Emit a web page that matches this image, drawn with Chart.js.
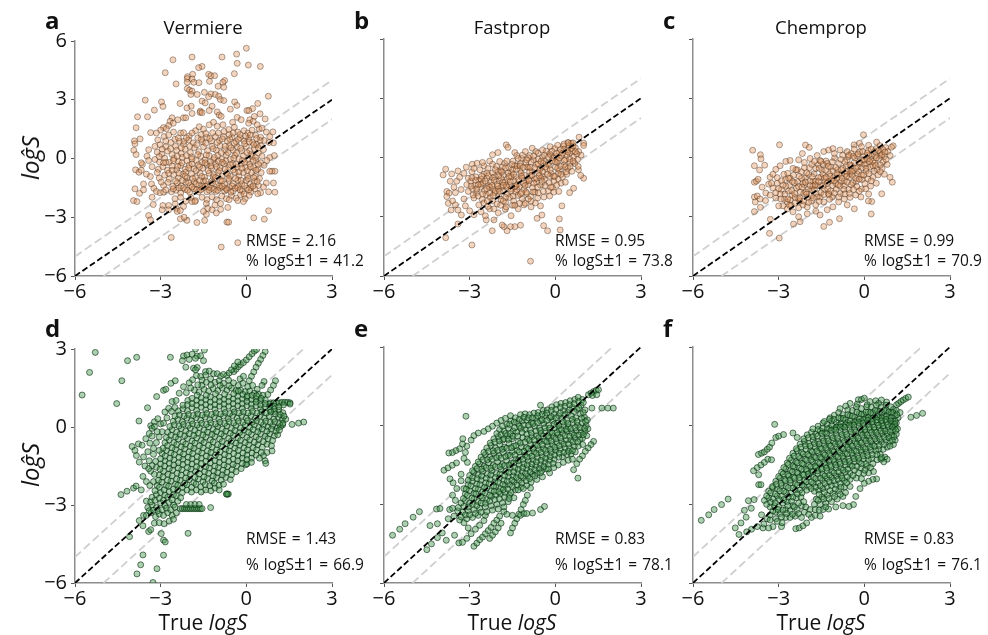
<!DOCTYPE html>
<html>
<head>
<meta charset="utf-8">
<script src="https://cdn.jsdelivr.net/npm/chart.js@4"></script>
<style>
  html, body { margin: 0; padding: 0; background: #fff; }
  #page { position: relative; width: 988px; height: 635px; overflow: hidden; font-family: "Open Sans", "Noto Sans", sans-serif; color: #111; }
  canvas { position: absolute; }
  .txt { position: absolute; white-space: nowrap; line-height: 1; }
  .letter { font-weight: 700; font-size: 24px; }
  .title { font-size: 18.5px; transform: translateX(-50%); }
  .note { font-size: 15.5px; word-spacing: 1px; }
  .note span { font-size: 20px; line-height: 0; }
  .xname { font-size: 21px; transform: translateX(-50%); }
  .yname { font-size: 24px; font-style: italic; transform: translate(-50%, -50%) rotate(-90deg); }
</style>
</head>
<body>
<div id="page"></div>
<script>
const panelLetters = ['a', 'b', 'c', 'd', 'e', 'f'];
const panelTitles = ['Vermiere', 'Fastprop', 'Chemprop'];
const rmseLabels = ['RMSE = 2.16', 'RMSE = 0.95', 'RMSE = 0.99', 'RMSE = 1.43', 'RMSE = 0.83', 'RMSE = 0.83'];
const pctLabels = ['% logS<span>±</span>1 = 41.2', '% logS<span>±</span>1 = 73.8', '% logS<span>±</span>1 = 70.9', '% logS<span>±</span>1 = 66.9', '% logS<span>±</span>1 = 78.1', '% logS<span>±</span>1 = 76.1'];
const xTicks = [-6, -3, 0, 3];
const yTicksTop = [-6, -3, 0, 3, 6];
const yTicksBottom = [-6, -3, 0, 3];

// reference lines y = x, y = x + 1, y = x - 1
const parityX = [-6, 3];
const parityY = [-6, 3];
const upperX = [-6, 3];
const upperY = [-5, 4];
const lowerX = [-5, 3];
const lowerY = [-6, 2];

// Vermiere, small set
const pointsA = [[0,5.63],[-.34,5.33],[-.85,5.18],[-1.9,5.18],[-2.57,5.04],[-.32,4.86],[.07,4.77],[.49,4.7],[-1.55,4.7],[-1.67,4.64],[-2.84,4.38],[-.42,4.33],[-1.32,4.3],[-1.24,4.23],[-1.11,4.23],[-1.88,4.3],[-2.06,4.18],[-2.07,4.08],[-1.9,4.06],[-1.29,3.94],[-.76,3.98],[-.82,3.89],[-2.07,3.89],[-1.84,3.89],[-1.66,3.87],[-2.46,3.81],[-.99,3.69],[-.79,3.64],[-2.07,3.57],[-1.99,3.49],[-1.9,3.44],[-1.94,3.27],[-1.72,3.27],[-1.47,3.38],[-1.24,3.3],[-1.09,3.27],[-1.32,3.15],[-.97,3.18],[-.91,3.01],[-.79,2.96],[.77,3.18],[-3.54,2.98],[-2.97,2.89],[-2.92,2.66],[-3.22,2.47],[-2.32,2.81],[-1.55,2.93],[-1.44,2.84],[-1.2,2.67],[-.41,2.89],[-.33,2.71],[.4,2.81],[.22,2.55],[.02,2.45],[.09,2.45],[-.56,2.52],[-1.93,2.67],[-2.08,2.58],[-1.61,2.42],[-3.81,2.13],[-3.46,2.13],[-3.86,1.57],[-1.62,2.35],[-1.55,2.34],[-1.3,2.45],[-1.02,2.38],[-.95,2.22],[-.88,2.15],[-1.9,2.3],[-2.2,2.08],[-2.12,2.08],[-2.6,2.08],[-2.4,1.98],[-2.67,1.9],[-2.56,1.8],[-2.72,1.68],[-2.9,1.58],[-3,1.45],[-3.15,1.3],[-3.35,1.32],[-2.8,1.52],[-.32,2.1],[-.18,1.98],[-.48,1.85],[.28,2.15],[.48,2.28],[.12,1.98],[.24,1.9],[.08,1.8],[.38,1.72],[.66,2.02],[.45,1.5],[.55,1.55],[.7,1.35],[.93,1.36],[.82,1.12],[.95,.8],[.8,.82],[.98,.15],[.82,.05],[.72,-.1],[1,-.65],[.9,-.65],[.82,-.65],[.95,-1.25],[.7,-1.25],[1,-1.72],[.78,-1.7],[.5,-1.75],[.4,-1.8],[.6,-1.45],[-3.92,.9],[-3.72,1],[-3.9,.75],[-3.94,.42],[-3.86,.2],[-3.42,.45],[-3.48,.12],[-3.88,-.58],[-3.76,-.7],[-3.68,-.6],[-3.64,-.3],[-3.68,-.22],[-3.42,-.1],[-3.3,-.42],[-3.5,-.8],[-3.36,-.92],[-3.6,-1.3],[-3.9,-1.55],[-3.74,-1.78],[-3.6,-1.6],[-3.32,-1.3],[-3.24,-1.52],[-3.15,-1.68],[-3.02,-1.75],[-2.9,-1.72],[-3.3,-1.98],[-3.26,-2.35],[-2.72,-2.4],
[-3.1,.95],[-2.88,1.12],[-2.72,1.2],[-2.55,1.35],[-2.3,1.3],[-2.2,1.32],[-2,1.15],[-1.78,1.42],[-1.65,1.62],[-1.5,1.5],[-1.3,1.72],[-1.15,1.85],[-1.02,1.65],[-.82,1.72],[-.62,1.48],[-.42,1.6],[-.3,1.35],[-.08,1.42],[.05,1.3],[.2,1.45],[.32,1.2],[.5,1.08],[.62,.92],
[-3.2,.62],[-3.02,.7],[-2.82,.6],[-2.64,.82],[-2.48,.62],[-2.34,.88],[-2.2,.72],[-2.02,.95],[-1.86,.8],[-1.7,1.05],[-1.54,.85],[-1.38,1.08],[-1.22,.9],[-1.08,1.12],[-.94,.92],[-.8,1.12],[-.66,.88],[-.5,1.1],[-.36,.86],[-.22,1.06],[-.08,.9],[.08,1.02],[.22,.82],[.36,.72],[.5,.66],[.6,.45],
[-3.12,.32],[-2.96,.22],[-2.76,.38],[-2.6,.2],[-2.44,.42],[-2.28,.25],[-2.14,.48],[-1.96,.3],[-1.82,.55],[-1.66,.35],[-1.5,.6],[-1.36,.4],[-1.2,.62],[-1.05,.42],[-.92,.65],[-.76,.45],[-.6,.66],[-.46,.42],[-.32,.6],[-.16,.4],[0,.62],[.12,.4],[.28,.5],[.42,.28],[.55,.12],
[-3.2,-.05],[-3.04,-.18],[-2.86,.02],[-2.7,-.2],[-2.54,0],[-2.38,-.16],[-2.24,.06],[-2.08,-.12],[-1.92,.08],[-1.76,-.1],[-1.6,.12],[-1.45,-.08],[-1.3,.14],[-1.14,-.06],[-1,.16],[-.86,-.04],[-.7,.18],[-.56,-.05],[-.4,.16],[-.26,-.02],[-.1,.14],[.05,-.06],[.2,.1],[.34,-.1],[.5,-.22],[.62,-.35],
[-3.08,-.55],[-2.92,-.42],[-2.76,-.6],[-2.6,-.38],[-2.44,-.58],[-2.3,-.36],[-2.14,-.55],[-2,-.34],[-1.84,-.52],[-1.68,-.32],[-1.52,-.5],[-1.38,-.3],[-1.22,-.5],[-1.08,-.28],[-.92,-.48],[-.78,-.26],[-.62,-.46],[-.48,-.26],[-.32,-.46],[-.18,-.28],[-.02,-.45],[.12,-.28],[.26,-.46],[.4,-.55],[.52,-.72],
[-3.05,-1],[-2.86,-.85],[-2.7,-1.05],[-2.54,-.82],[-2.38,-1],[-2.22,-.8],[-2.08,-1],[-1.92,-.78],[-1.78,-.98],[-1.62,-.75],[-1.46,-.96],[-1.3,-.75],[-1.16,-.94],[-1,-.72],[-.86,-.92],[-.7,-.72],[-.56,-.9],[-.4,-.7],[-.26,-.9],[-.1,-.72],[.04,-.9],[.18,-.72],[.32,-.92],[.46,-1.02],
[-2.9,-1.38],[-2.74,-1.22],[-2.58,-1.42],[-2.42,-1.24],[-2.28,-1.4],[-2.12,-1.2],[-1.96,-1.38],[-1.82,-1.18],[-1.66,-1.36],[-1.5,-1.16],[-1.36,-1.34],[-1.2,-1.14],[-1.06,-1.32],[-.9,-1.12],[-.76,-1.3],[-.6,-1.12],[-.46,-1.28],[-.3,-1.1],[-.16,-1.3],[0,-1.12],[.14,-1.3],[.28,-1.18],[.42,-1.38],
[-2.62,-1.7],[-2.46,-1.62],[-2.3,-1.76],[-2.14,-1.58],[-1.98,-1.72],[-1.84,-1.55],[-1.68,-1.7],[-1.52,-1.52],[-1.38,-1.7],[-1.22,-1.52],[-1.06,-1.68],[-.92,-1.5],[-.76,-1.66],[-.6,-1.48],[-.46,-1.66],[-.3,-1.5],[-.14,-1.68],[.02,-1.52],[.16,-1.7],[.3,-1.55],
[-2.5,-2.05],[-2.3,-1.98],[-2.12,-2.18],[-1.94,-2],[-1.78,-2.15],[-1.55,-1.98],[-1.38,-2.1],[-1.2,-1.95],[-1.04,-2.1],[-.86,-1.92],[-.7,-2.05],[-.52,-1.9],[-.36,-2.02],[-.2,-1.85],[-.04,-2.05],[.1,-1.88],[-1.9,-2.2],[-1.8,-2.2],[-1.4,-2.3],[-1.1,-2.38],[-.9,-2.3],[-.6,-2.1],[-.3,-2.15],[-.1,-2.2],[-1.35,-2.55],[-1.2,-2.62],[-1.05,-2.78],[-1.4,-2.85],[-.9,-2.6],[-.65,-2.5],[-2.2,-2.45],[-2.45,-2.55],[-2.42,-2.7],[-1.5,-2.7],
[-3.95,-2.15],[-3.83,-2.2],[-3.42,-2.91],[-3.36,-3.13],[-2.63,-4.03],[-.88,-4.52],[-.3,-4.3],[-.68,-3.25],[-.62,-3.25],[.26,-3.03],[.63,-3.1],[.78,-2.67],[-1.73,-3.27],[-1.46,-3.16],[-2.31,-3.08],[-2.08,-3.16],[-2.18,-3],[-2.92,-2.4],[-2.95,-2.62],[-2.72,-2.62],[-2.49,-2.32],[-2.31,-2.66],
// denser core
[-2.5,.98],[-2.28,.55],[-2.42,.12],[-2.18,.88],[-2.1,.15],[-1.98,.62],[-1.9,-.02],[-1.74,.7],[-1.7,.2],[-1.58,.98],[-1.55,-.2],[-1.42,.78],[-1.4,.18],[-1.28,1.02],[-1.26,-.18],[-1.16,.5],[-1.12,.05],[-1.02,.82],[-.98,-.14],[-.88,.3],[-.84,1],[-.74,.62],[-.72,-.12],[-.64,.3],[-.58,1],[-.54,.55],[-.44,.02],[-.42,.78],[-.34,.28],[-.28,.98],[-.2,.52],[-.14,-.1],[-.06,.75],[.02,.3],[.1,.85],[.16,.2],[.26,.7],[.32,.05],[.42,.55],[.48,.92],[-2.65,.5],[-2.55,-.1],[-2.4,-.4],[-2.25,-.22],[-2.12,-.7],[-2.02,-.48],[-1.9,-.28],[-1.76,-.62],[-1.64,-.42],[-1.56,-.92],[-1.44,-.22],[-1.34,-.62],[-1.24,-.38],[-1.14,-.82],[-1.04,-.42],[-.94,-.62],[-.84,-.2],[-.74,-.55],[-.66,-.8],[-.56,-.32],[-.46,-.58],[-.36,-.3],[-.26,-.68],[-.16,-.5],[-.06,-.2],[.04,-.62],[.14,-.42],[.24,-.12],[.34,-.6],[.42,-.3],[-2.82,-.2],[-2.72,-.75],[-2.6,-.6],[-2.48,-1.15],[-2.36,-.75],[-2.24,-1.12],[-2.14,-.9],[-2.02,-1.24],[-1.88,-1.02],[-1.76,-1.3],[-1.64,-1.12],[-1.54,-1.42],[-1.42,-1.14],[-1.3,-1.48],[-1.18,-1.24],[-1.08,-.98],[-.96,-1.42],[-.84,-1.14],[-.72,-1.52],[-.62,-1.02],[-.5,-1.4],[-.38,-1.02],[-.28,-1.42],[-.18,-1.12],[-.06,-1.38],[.06,-1.02],[.16,-1.48],[.26,-.98],[.38,-1.18],[-2.56,-1.55],[-2.36,-1.5],[-2.2,-1.5],[-2.06,-1.62],[-1.9,-1.45],[-1.74,-1.6],[-1.6,-1.6],[-1.44,-1.42],[-1.3,-1.62],[-1.14,-1.58],[-1,-1.62],[-.84,-1.42],[-.68,-1.6],[-.54,-1.72],[-.38,-1.52],[-.22,-1.6],[-.08,-1.82],[.08,-1.6],[.24,-1.4],[-1.58,1.22],[-1.42,1.28],[-1.18,1.32],[-.98,1.3],[-.78,1.38],[-.6,1.22],[-.46,1.3],[-.22,1.22],[-.02,1.15],[.14,1.2],[.36,1.02],[-2.82,.9],[-2.95,.48],[-3.05,.1],[-2.9,-.22],[-3.12,-.72],[-2.98,-1.2],[-2.82,-1.6],[-1.9,1.3],[-2.1,1.05],[-2.38,1.05]];

// Fastprop, small set
const pointsB = [[-3.84,-.59],[-3.93,-.88],[-3.63,-.83],[-3.41,-.68],[-3.12,-.49],[-2.91,-.34],[-2.74,-.29],[-2.5,-.42],[-2.2,-.34],[-2.2,.14],[-2.01,.25],[-1.72,.64],[-1.66,.51],[-1.42,.25],[-.81,.47],[.83,1.03],[.99,.73],[.99,.61],[.44,.76],[.99,-1.05],[.89,-.91],[.81,-.62],[.64,-1.56],[.5,-1.78],[.23,-2.45],[.14,-3.11],[.17,-3.67],[-.27,-3.71],[-.41,-3.45],[-.47,-2.91],[-.64,-3.08],[-.52,-2.45],[-1.22,-3.43],[-1.42,-3.5],[-1.57,-3.5],[-1.69,-3.71],[-1.8,-3.5],[-1.86,-3.42],[-2.21,-3.71],[-2.15,-3.16],[-2.42,-3.16],[-3.41,-3.37],[-3.84,-4.06],[-2.92,-4.43],[-.87,-5.25],
[-3.8,-1.72],[-3.72,-1.8],[-3.8,-1.98],[-3.75,-2.32],[-3.65,-2.66],[-3.41,-2.66],[-3.29,-2.91],[-3.6,-2.2],[-3.5,-2.4],[-3.55,-1.5],[-3.45,-1.2],[-3.35,-1.0],[-3.68,-1.2],[-3.5,-1.78],[-3.3,-1.62],[-3.2,-2.1],[-3.15,-2.45],[-3,-2.7],[-2.85,-2.9],[-2.6,-2.75],[-2.45,-2.95],[-2.3,-2.6],[-2,-2.8],[-1.75,-2.62],[-1.55,-2.95],[-1.3,-2.6],[-1.1,-2.4],[-.85,-2.5],[-.7,-2.3],
[-3.2,-.8],[-3.05,-1.05],[-2.92,-.72],[-2.78,-.98],[-2.64,-.62],[-2.5,-.85],[-2.36,-.56],[-2.2,-.78],[-2.06,-.45],[-1.92,-.66],[-1.78,-.3],[-1.62,-.5],[-1.48,-.18],[-1.34,-.42],[-1.18,-.05],[-1.04,-.28],[-.9,.1],[-.76,-.12],[-.6,.22],[-.46,0],[-.32,.32],[-.16,.12],[-.02,.45],[.14,.25],[.28,.58],[.42,.38],[.56,.72],[.7,.5],[.82,.3],[.9,.12],[.75,.18],[.6,.32],
[-3.1,-1.38],[-2.96,-1.2],[-2.82,-1.42],[-2.68,-1.15],[-2.54,-1.3],[-2.4,-1.05],[-2.26,-1.25],[-2.12,-.98],[-1.96,-1.18],[-1.82,-.88],[-1.68,-1.1],[-1.54,-.78],[-1.38,-1],[-1.24,-.65],[-1.1,-.88],[-.96,-.5],[-.8,-.72],[-.66,-.35],[-.52,-.55],[-.38,-.18],[-.22,-.4],[-.08,-.02],[.06,-.25],[.22,.1],[.36,-.1],[.5,.22],[.64,.02],[.78,-.1],[.68,-.3],[.52,-.25],[.8,-.45],
[-3.05,-1.72],[-2.9,-1.58],[-2.76,-1.78],[-2.62,-1.5],[-2.48,-1.68],[-2.34,-1.42],[-2.18,-1.6],[-2.04,-1.35],[-1.9,-1.52],[-1.76,-1.25],[-1.6,-1.42],[-1.46,-1.18],[-1.32,-1.35],[-1.16,-1.05],[-1.02,-1.22],[-.88,-.92],[-.72,-1.1],[-.58,-.78],[-.44,-.95],[-.3,-.6],[-.14,-.8],[0,-.48],[.14,-.65],[.3,-.38],[.44,-.55],[.58,-.7],[.4,-.85],[.25,-.98],[.1,-1.1],[-.05,-1.2],
[-2.85,-2.05],[-2.7,-1.95],[-2.56,-2.12],[-2.42,-1.88],[-2.28,-2.02],[-2.12,-1.78],[-1.98,-1.95],[-1.84,-1.7],[-1.68,-1.85],[-1.54,-1.58],[-1.4,-1.75],[-1.26,-1.48],[-1.1,-1.62],[-.96,-1.38],[-.8,-1.52],[-.66,-1.25],[-.52,-1.4],[-.38,-1.1],[-.22,-1.28],[-.1,-1.52],[.05,-1.4],[.2,-1.3],[.35,-1.25],[-.25,-1.7],[-.05,-1.75],[.12,-1.72],[-.42,-1.72],[-.6,-1.8],
[-2.68,-2.4],[-2.5,-2.3],[-2.36,-2.48],[-2.2,-2.2],[-2.04,-2.35],[-1.9,-2.12],[-1.74,-2.28],[-1.6,-2.02],[-1.46,-2.2],[-1.3,-1.92],[-1.16,-2.1],[-1,-1.82],[-.86,-1.98],[-.72,-1.75],[-.85,-2.2],[-.62,-2.05],[-1.05,-2.32],[-1.25,-2.32],[-1.5,-2.42],[-1.72,-2.5],[-1.92,-2.42],[-2.15,-2.6],[-.4,-2],[-.2,-1.95],
[-2.6,-1.1],[-2.4,-.78],[-2.2,-1.02],[-2,-.72],[-1.85,-.48],[-1.66,-.78],[-1.42,-.42],[-1.22,-.3],[-1,-.48],[-.85,-.22],[-.6,-.08],[-.42,-.3],[-.2,.18],[.05,.05],[.3,.42],[.62,.58],[.48,.6],[-1.5,-.62],[-1.7,-.18],[-1.95,-.2],[-2.3,-.18],[-2.55,-.25],[-2.85,-.55],[-1.15,.12],[-1.35,.1],[-.68,.3],[-.45,.38],[-.18,.55],[.08,.62],[-1.05,.3],[-1.3,-.05],[-.95,-.02],[-.12,.32],[.18,.4],
[-1.7,-1.5],[-1.35,-1.62],[-1.1,-1.3],[-.75,-1.3],[-.5,-1.05],[-.2,-.95],[.1,-.8],[-2,-1.6],[-2.3,-1.8],[-2.6,-1.35],[-1.9,-1.05],[-1.55,-.98],[-1.2,-.78],[-.9,-.72],[-.55,-.62],[-.25,-.3],[.1,-.15],[.4,.1],
// denser core
[-2.8,-1.15],[-2.7,-1.38],[-2.58,-.95],[-2.46,-1.2],[-2.34,-.92],[-2.3,-1.5],[-2.14,-1.15],[-2.1,-.62],[-2.02,-1.45],[-1.98,-.92],[-1.88,-.72],[-1.84,-1.25],[-1.74,-.52],[-1.72,-1.42],[-1.62,-.96],[-1.58,-1.22],[-1.52,-.35],[-1.46,-.85],[-1.42,-1.48],[-1.36,-.6],[-1.28,-1.12],[-1.24,-.42],[-1.18,-.95],[-1.12,-.5],[-1.06,-1.42],[-1,-.12],[-.94,-1.1],[-.88,-.5],[-.82,-.9],[-.76,.08],[-.72,-.52],[-.66,-1.05],[-.6,-.32],[-.56,-.92],[-.5,-.2],[-.44,-.72],[-.38,.12],[-.34,-.48],[-.28,-.85],[-.24,.02],[-.18,-.62],[-.12,-.18],[-.06,-.95],[0,-.22],[.04,.22],[.08,-.55],[.14,-.02],[.2,-.45],[.26,.22],[.32,-.15],[.38,-.72],[.44,.28],[.5,-.08],[.56,.45],[.62,-.18],[.7,.3],[.3,.68],[.46,.74],[.62,.74],[-2.4,-1.58],[-2.22,-1.42],[-2.1,-1.7],[-1.96,-1.72],[-1.82,-1.4],[-1.74,-2.02],[-1.56,-1.7],[-1.48,-1.95],[-1.38,-1.42],[-1.22,-1.85],[-1.02,-1.75],[-.92,-1.18],[-.78,-1.75],[-.62,-1.5],[-.46,-1.22],[-.36,-1.42],[-.16,-1.5],[-.02,-.95],[.2,-.85],[.35,-.48],[.52,-.45],[-2.55,-1.85],[-2.38,-2.2],[-2.18,-1.92],[-1.82,-2.2],[-1.42,-2.42],[-1.18,-1.78],[-.95,-2.1],[-2.88,-1.9],[-2.75,-1.6],[-2.95,-1.45],[-2.92,-1.02]];

// Chemprop, small set
const pointsC = [[-3.91,.37],[-2.97,.64],[-3.64,.14],[-3.62,-.07],[-3.85,-.42],[-3.49,-.39],[-3.67,-.63],[-2.06,.63],[-1.93,.51],[-2.17,.2],[-.03,1.15],[-.36,.64],[-.17,.72],[.43,.78],[1.01,.59],[.98,-1.25],[.9,-1],[.61,-1.84],[.26,-2.23],[.14,-2.2],[.24,-2.86],[-.87,-3.1],[-1.22,-3.28],[-1.42,-3.49],[-1.55,-2.91],[-2.25,-3.25],[-2.48,-3.37],[-3.29,-3.13],[-3.32,-3.84],[-2.98,-4.08],[-3.85,-2.74],[-3.64,-2.52],[-3.46,-2.18],
[-3.85,-1.25],[-3.78,-1.2],[-3.72,-1.1],[-3.85,-2],[-3.75,-1.95],[-3.82,-2.25],[-3.65,-2.1],[-3.58,-1.5],[-3.45,-1.8],[-3.35,-1.35],[-3.3,-1],[-3.2,-.85],[-3.1,-.6],[-2.95,-.42],[-2.75,-.2],[-2.6,-.15],[-2.3,-.12],[-1.9,-.05],[-1.65,.1],[-1.42,.3],[-1.25,.38],[-1.1,.45],[-.85,.38],[-.6,.3],[-.35,.42],[-.1,.55],[.15,.62],[.55,.6],[.75,.5],[.95,.52],
[-3.2,-1.55],[-3.05,-1.3],[-2.9,-1.62],[-2.76,-1.12],[-2.62,-1.4],[-2.48,-.9],[-2.34,-1.22],[-2.2,-.72],[-2.06,-1.02],[-1.92,-.52],[-1.76,-.82],[-1.62,-.36],[-1.48,-.65],[-1.34,-.18],[-1.18,-.48],[-1.04,-.02],[-.9,-.3],[-.76,.12],[-.6,-.12],[-.46,.2],[-.32,-.02],[-.16,.28],[-.02,.05],[.14,.35],[.28,.12],[.42,.45],[.56,.25],[.7,.05],[.82,.3],[.9,.1],
[-3.1,-2.05],[-2.95,-1.85],[-2.8,-2.12],[-2.66,-1.7],[-2.52,-1.92],[-2.38,-1.55],[-2.24,-1.75],[-2.1,-1.38],[-1.96,-1.6],[-1.8,-1.2],[-1.66,-1.42],[-1.52,-1],[-1.38,-1.22],[-1.22,-.82],[-1.08,-1.02],[-.94,-.62],[-.8,-.85],[-.64,-.42],[-.5,-.65],[-.36,-.28],[-.22,-.48],[-.06,-.12],[.08,-.32],[.22,-.08],[.36,-.28],[.52,-.05],[.66,-.22],[.8,-.35],[.62,-.55],[.45,-.6],
[-2.85,-2.45],[-2.7,-2.25],[-2.56,-2.42],[-2.42,-2.02],[-2.26,-2.22],[-2.12,-1.82],[-1.98,-2.02],[-1.84,-1.62],[-1.68,-1.82],[-1.54,-1.42],[-1.4,-1.62],[-1.26,-1.22],[-1.1,-1.42],[-.96,-1.05],[-.82,-1.22],[-.66,-.85],[-.52,-1.02],[-.38,-.68],[-.24,-.85],[-.08,-.52],[.06,-.7],[.2,-.48],[.34,-.68],[.48,-.88],[.7,-.85],[.3,-1],[.12,-1.08],[-.08,-1.12],[-.28,-1.2],
[-2.5,-2.75],[-2.3,-2.55],[-2.15,-2.4],[-2,-2.5],[-1.85,-2.2],[-1.7,-2.4],[-1.55,-2],[-1.42,-2.25],[-1.26,-1.82],[-1.12,-2],[-.98,-1.6],[-.84,-1.82],[-.7,-1.42],[-.54,-1.62],[-.4,-1.28],[-.26,-1.48],[-.1,-1.6],[.05,-1.58],[.22,-1.45],[.42,-1.3],[-.3,-1.9],[-.12,-2],[.15,-1.85],[-.5,-2.02],[-.7,-2.1],[-.9,-2.25],[-1.1,-2.5],[-1.3,-2.65],[-1.7,-2.72],[-2,-2.85],[-2.3,-3],[-.6,-2.4],[-.35,-2.6],
[-3.3,-1.9],[-3,-2.45],[-2.7,-2.6],[-2.6,-1.05],[-2.35,-.62],[-2.15,-1.3],[-1.9,-1.2],[-1.75,-1.62],[-1.45,-.85],[-1.7,-.55],[-1.28,-1.6],[-1,-1.3],[-.9,-.88],[-.7,-1.18],[-.45,-.42],[-.2,-.7],[0,-.35],[.3,-.2],[.55,.1],[.15,.12],[-.25,.1],[-.55,.05],[-1.05,.2],[-1.3,-.3],[-1.55,-.15],[-1.95,-.85],[-2.2,-1.05],[-2.45,-1.28],[-2.75,-1.45],[-1.6,-1.02],[-1.35,-.65],[-1.1,-.68],[-.75,-.55],[-.5,-.82],[-.15,-.28],[.1,-.08],[.4,.1],[.65,.4],[-2.05,-1.75],[-1.65,-2],[-1.25,-1.88],[-.85,-1.45],[-.6,-1.25],[-2.3,-2.1],[-2.6,-2.15],[-1.8,-1.45],[-1.15,-1.15],
// denser core
[-3.05,-1.02],[-2.9,-1.18],[-2.82,-.85],[-2.68,-.8],[-2.52,-1.22],[-2.4,-.62],[-2.28,-.95],[-2.1,-.52],[-2.02,-.78],[-1.84,-.35],[-1.82,-.98],[-1.7,-1.2],[-1.58,-.55],[-1.44,-.35],[-1.4,-1.05],[-1.26,-.45],[-1.2,-.95],[-1.12,-.22],[-1,-.5],[-.96,-.82],[-.82,-.1],[-.8,-.62],[-.68,-.22],[-.62,-.72],[-.54,.12],[-.5,-.38],[-.42,-.9],[-.38,.05],[-.3,-.55],[-.22,.18],[-.18,-.22],[-.1,-.88],[-.06,.3],[0,-.12],[.06,-.55],[.1,.22],[.18,-.2],[.24,.42],[.3,-.42],[.36,.3],[.42,-.02],[.5,.35],[.56,-.38],[.62,.15],[.72,.28],[.76,-.1],[-2.92,-2.1],[-2.78,-1.85],[-2.68,-2.1],[-2.54,-1.68],[-2.44,-1.82],[-2.3,-1.48],[-2.18,-1.5],[-2.06,-1.25],[-2.02,-1.85],[-1.9,-1.42],[-1.86,-1.92],[-1.72,-1.38],[-1.6,-1.22],[-1.52,-1.78],[-1.44,-1.42],[-1.34,-1],[-1.3,-1.3],[-1.18,-1.7],[-1.05,-1.18],[-.92,-1.38],[-.78,-1.05],[-.72,-1.62],[-.62,-.95],[-.46,-1.38],[-.44,-.7],[-.3,-1.05],[-.18,-1.1],[-.02,-.88],[.02,-1.32],[.16,-.82],[.24,-1.18],[.4,-.4],[.56,-.72],[-2.62,-2.42],[-2.42,-2.3],[-2.25,-2.05],[-2.12,-2.2],[-1.95,-2.28],[-1.78,-2.05],[-1.58,-2.22],[-1.42,-1.88],[-1.22,-2.12],[-1.05,-1.8],[-.9,-2],[-.68,-1.85],[-.52,-1.82],[-.38,-1.62],[-.18,-1.7],[-3.1,-1.78],[-3.25,-1.3],[-3,-1.58],[-2.85,-1.4],[-2.65,-1.05],[-2.5,-.55],[-2.1,-.25],[-1.75,-.2],[-1.52,-.2]];

// Vermiere, large set
const pointsD = [[-5.29,2.87],[-5.49,2.1],[-5.75,1.23],[-4.16,2.55],[-3.84,2.68],[-4.36,1.78],[-4.54,.9],[-2.66,2.68],[-3.76,.23],[-3.46,.74],[-3.14,1.17],[-2.9,1.41],[-2.82,1.45],[-2.64,1.68],[-2.49,1.78],[-4.39,-2.6],[-4.18,-2.47],[-3.95,-2.35],[-3.86,-2.27],[-4.09,-4.22],[-2.04,-4.09],[-3.62,-4.92],[-2.9,-4.93],[-3.7,-5.3],[-3.13,-5.45],[-3.83,-5.65],[-3.27,-5.98],[-2.9,-4.35],[-2.84,-4.42],[-2.98,-4.1],[1.6,.1],[1.83,.15],[2.01,.19],[1.27,.08],
[-2.2,2.73],[-2.08,2.77],[-1.9,2.8],[-1.72,2.73],[-1.6,2.74],[-2.24,2.55],[-2,2.6],[-1.78,2.64],[-1.5,2.55],[-2.12,2.3],[-1.85,2.26],[-1.72,2.29],[-1.78,2.2],[-1.43,2.13],[-1.6,1.94],[-1.78,3],[-1.47,2.96],
[-.68,-2.58],[-.66,-2.58],[-.63,-2.58],[-.7,-2.58],[-2.31,-3.14],[-2.24,-3.14],[-2.17,-3.14],[-2.1,-3.14],[-2.03,-3.14],[-1.96,-3.14],[-1.89,-3.14],[-1.82,-3.14],[-1.75,-3.14],[-1.68,-3.14],[-1.61,-3.14],[-1.55,-3.14],[-2.1,-2.98],[-1.95,-2.98],[-1.8,-2.98],[-1.65,-2.98],[-1.25,-3.1],
[.85,.93],[.95,.93],[1.05,.93],[1.15,.93],[1.25,.95],[1.35,.95],[1.45,.95],[1.53,.93],[1.53,.88],[1.3,.85],
[-.44,2.13],[-.36,2.22],[-.28,2.32],[-.2,2.4],[-.1,2.48],[0,2.58],[.1,2.7],[.2,2.82],[.28,2.92],[.36,2.98],[-.68,1.98],[-.6,2.08],[-.52,2.2],[-.42,2.35],[-.3,2.5],[.66,2.9],[.58,2.75],[.5,2.6],[.42,2.45],[.34,2.3],[.26,2.12],[.18,1.95],[.1,1.78],[1.02,1.78],[.95,1.6],[.85,1.42],[.75,1.25],[.62,1.75],[.55,1.6],[-1.15,2.05],[-1.02,2.05],[-.9,1.95],[-.8,2.02],[-.22,1.85],[-.1,1.95],
[-4.0,-.75],[-3.9,-.9],[-3.78,-.65],[-3.65,-.7],[-3.85,-1.1],[-3.75,-1.35],[-3.6,-1.15],[-3.45,-.95],[-3.52,-.45],[-3.4,-.25],[-3.35,.05],[-3.3,-.05],[-3.22,.2],[-3.1,.32],[-3,.12],[-2.85,.58],[-2.72,.72],[-2.6,.98],[-2.46,1.02],[-3.55,-1.5],[-3.4,-1.3],[-3.35,-1.7],[-3.25,-1.05],[-3.15,-.6],[-3.25,-2.1],[-3.15,-1.55],[-3.62,-1.9],[-3.5,-2.1],[-3.38,-2.25],[-3.68,-2.42],[-3.5,-2.85],[-3.6,-3.4],[-3.75,-3.6],[-3.62,-3.8],[-3.42,-4.02],[-3.35,-3.95],
[-1.55,1.8],[-1.4,1.72],[-1.25,1.85],[-1.1,1.72],[-.95,1.78],[-.8,1.68],[-.62,1.8],[-.45,1.7],[-.28,1.6],[-.12,1.68],[.05,1.55],[.22,1.6],[.38,1.45],
[-1.82,1.42],[-1.65,1.35],[-1.48,1.45],[-1.32,1.38],[-1.16,1.48],[-1,1.4],[-.84,1.5],[-.68,1.42],[-.52,1.5],[-.36,1.4],[-.2,1.42],[-.04,1.36],[.12,1.38],[.28,1.3],[.44,1.25],[.58,1.22],
[-2.05,1.02],[-1.9,1.1],[-1.74,1.02],[-1.58,1.12],[-1.42,1.05],[-1.26,1.15],[-1.1,1.05],[-.94,1.15],[-.78,1.06],[-.62,1.16],[-.46,1.08],[-.3,1.18],[-.14,1.08],[.02,1.14],[.18,1.05],[.34,1.08],[.5,1],[.66,1.05],[.82,.88],[.98,.8],
[-2.38,.62],[-2.22,.7],[-2.06,.62],[-1.9,.74],[-1.74,.64],[-1.58,.76],[-1.42,.66],[-1.26,.78],[-1.1,.68],[-.94,.8],[-.78,.7],[-.62,.8],[-.46,.7],[-.3,.82],[-.14,.72],[.02,.82],[.18,.72],[.34,.82],[.5,.7],[.66,.78],[.82,.66],[.98,.6],[1.14,.65],[1.28,.55],
[-2.56,.22],[-2.4,.3],[-2.24,.2],[-2.08,.34],[-1.92,.24],[-1.76,.36],[-1.6,.26],[-1.44,.38],[-1.28,.28],[-1.12,.4],[-.96,.3],[-.8,.42],[-.64,.32],[-.48,.44],[-.32,.34],[-.16,.44],[0,.34],[.16,.44],[.32,.34],[.48,.44],[.64,.34],[.8,.42],[.96,.3],[1.12,.38],[1.26,.28],[1.38,.3],
[-2.75,-.2],[-2.6,-.1],[-2.44,-.2],[-2.28,-.06],[-2.12,-.16],[-1.96,-.04],[-1.8,-.14],[-1.64,-.02],[-1.48,-.12],[-1.32,0],[-1.16,-.1],[-1,.02],[-.84,-.08],[-.68,.04],[-.52,-.06],[-.36,.06],[-.2,-.04],[-.04,.08],[.12,-.02],[.28,.08],[.44,-.02],[.6,.08],[.76,0],[.92,.06],[1.08,-.04],[1.2,.02],
[-2.85,-.6],[-2.7,-.5],[-2.54,-.6],[-2.38,-.46],[-2.22,-.58],[-2.06,-.44],[-1.9,-.54],[-1.74,-.42],[-1.58,-.52],[-1.42,-.38],[-1.26,-.5],[-1.1,-.36],[-.94,-.46],[-.78,-.34],[-.62,-.44],[-.46,-.32],[-.3,-.42],[-.14,-.3],[.02,-.4],[.18,-.28],[.34,-.38],[.5,-.26],[.66,-.36],[.82,-.26],[.98,-.34],[1.1,-.3],
[-2.95,-1.02],[-2.8,-.9],[-2.64,-1],[-2.48,-.86],[-2.32,-.98],[-2.16,-.84],[-2,-.96],[-1.84,-.82],[-1.68,-.94],[-1.52,-.8],[-1.36,-.92],[-1.2,-.78],[-1.04,-.88],[-.88,-.74],[-.72,-.86],[-.56,-.72],[-.4,-.82],[-.24,-.7],[-.08,-.8],[.08,-.68],[.24,-.8],[.4,-.68],[.56,-.78],[.72,-.66],[.88,-.72],[.9,-.92],[.72,-.98],[.6,-1.1],
[-3,-1.42],[-2.85,-1.3],[-2.7,-1.4],[-2.54,-1.26],[-2.38,-1.38],[-2.22,-1.24],[-2.06,-1.36],[-1.9,-1.22],[-1.74,-1.34],[-1.58,-1.2],[-1.42,-1.32],[-1.26,-1.18],[-1.1,-1.3],[-.94,-1.16],[-.78,-1.26],[-.62,-1.12],[-.46,-1.24],[-.3,-1.1],[-.14,-1.2],[.02,-1.08],[.18,-1.2],[.34,-1.08],[.46,-1.2],[.66,-1.3],[.68,-1.4],
[-3.05,-1.85],[-2.9,-1.7],[-2.74,-1.82],[-2.58,-1.66],[-2.42,-1.78],[-2.26,-1.64],[-2.1,-1.76],[-1.94,-1.62],[-1.78,-1.72],[-1.62,-1.6],[-1.46,-1.72],[-1.3,-1.58],[-1.14,-1.7],[-.98,-1.56],[-.82,-1.66],[-.66,-1.52],[-.5,-1.64],[-.34,-1.5],[-.18,-1.6],[-.02,-1.45],[.02,-1.42],
[-3.12,-2.25],[-2.96,-2.12],[-2.8,-2.25],[-2.64,-2.08],[-2.48,-2.2],[-2.32,-2.05],[-2.16,-2.16],[-2,-2.02],[-1.84,-2.14],[-1.68,-2],[-1.52,-2.1],[-1.36,-1.98],[-1.2,-2.08],[-1.04,-1.94],[-.88,-2.04],[-.72,-1.94],[-.56,-2.02],
[-3.3,-2.7],[-3.15,-2.6],[-3,-2.52],[-2.85,-2.62],[-2.7,-2.48],[-2.55,-2.6],[-2.4,-2.42],[-2.24,-2.52],[-2.08,-2.42],[-1.92,-2.5],[-1.75,-2.42],[-1.58,-2.5],[-1.42,-2.42],[-1.24,-2.45],[-1.1,-2.35],[-.95,-2.42],
[-3.45,-3.1],[-3.3,-3],[-3.15,-3.1],[-3,-2.92],[-2.85,-3.02],[-2.7,-2.9],[-2.55,-3],[-2.4,-2.85],[-3.5,-3.4],[-3.34,-3.3],[-3.18,-3.45],[-3.05,-3.35],[-2.9,-3.4],[-2.75,-3.3],[-2.6,-3.4],[-2.45,-3.3],[-3.22,-3.7],[-3.05,-3.68],[-2.88,-3.72],[-2.7,-3.62],[-2.55,-3.55],
// denser core
[-1.72,1.22],[-1.56,1.6],[-1.4,1.22],[-1.24,1.62],[-1.08,1.28],[-.92,1.6],[-.76,1.26],[-.6,1.58],[-.44,1.28],[-.28,1.38],[-.12,1.25],[.04,1.2],[.2,1.22],[.36,1.2],[.52,1.1],
[-2.22,.84],[-2.06,.86],[-1.9,.9],[-1.74,.84],[-1.58,.94],[-1.42,.86],[-1.26,.96],[-1.1,.86],[-.94,.98],[-.78,.88],[-.62,.98],[-.46,.9],[-.3,1],[-.14,.9],[.02,.98],[.18,.88],[.34,.96],[.5,.85],[.66,.9],[.82,.78],[.98,.68],[1.14,.78],
[-2.5,.42],[-2.34,.46],[-2.18,.42],[-2.02,.48],[-1.86,.44],[-1.7,.5],[-1.54,.46],[-1.38,.52],[-1.22,.48],[-1.06,.54],[-.9,.5],[-.74,.56],[-.58,.52],[-.42,.58],[-.26,.54],[-.1,.58],[.06,.54],[.22,.6],[.38,.54],[.54,.58],[.7,.54],[.86,.58],[1.02,.5],[1.18,.48],[1.32,.42],
[-2.68,.02],[-2.52,.08],[-2.36,.04],[-2.2,.1],[-2.04,.06],[-1.88,.12],[-1.72,.08],[-1.56,.14],[-1.4,.1],[-1.24,.16],[-1.08,.12],[-.92,.18],[-.76,.14],[-.6,.2],[-.44,.16],[-.28,.22],[-.12,.18],[.04,.24],[.2,.18],[.36,.24],[.52,.18],[.68,.22],[.84,.18],[1,.2],[1.16,.14],[1.28,.14],
[-2.8,-.4],[-2.64,-.32],[-2.48,-.38],[-2.32,-.28],[-2.16,-.34],[-2,-.26],[-1.84,-.32],[-1.68,-.24],[-1.52,-.3],[-1.36,-.2],[-1.2,-.28],[-1.04,-.18],[-.88,-.26],[-.72,-.16],[-.56,-.24],[-.4,-.14],[-.24,-.22],[-.08,-.12],[.08,-.2],[.24,-.1],[.4,-.18],[.56,-.08],[.72,-.16],[.88,-.08],[1.04,-.16],[1.16,-.12],
[-2.92,-.82],[-2.76,-.72],[-2.6,-.8],[-2.44,-.68],[-2.28,-.76],[-2.12,-.66],[-1.96,-.74],[-1.8,-.62],[-1.64,-.72],[-1.48,-.6],[-1.32,-.7],[-1.16,-.58],[-1,-.68],[-.84,-.56],[-.68,-.64],[-.52,-.54],[-.36,-.62],[-.2,-.52],[-.04,-.6],[.12,-.5],[.28,-.58],[.44,-.48],[.6,-.56],[.76,-.46],[.92,-.52],
[-3,-1.22],[-2.84,-1.12],[-2.68,-1.2],[-2.52,-1.06],[-2.36,-1.16],[-2.2,-1.04],[-2.04,-1.16],[-1.88,-1.02],[-1.72,-1.14],[-1.56,-1],[-1.4,-1.12],[-1.24,-.98],[-1.08,-1.08],[-.92,-.96],[-.76,-1.06],[-.6,-.92],[-.44,-1.02],[-.28,-.9],[-.12,-1],[.04,-.88],[.2,-1],[.36,-.88],[.52,-.98],
[-3.02,-1.62],[-2.86,-1.5],[-2.7,-1.6],[-2.54,-1.46],[-2.38,-1.58],[-2.22,-1.44],[-2.06,-1.56],[-1.9,-1.42],[-1.74,-1.52],[-1.58,-1.4],[-1.42,-1.52],[-1.26,-1.38],[-1.1,-1.5],[-.94,-1.36],[-.78,-1.46],[-.62,-1.32],[-.46,-1.44],[-.3,-1.3],[-.14,-1.4],[.02,-1.25],[.18,-1.36],
[-3.08,-2.05],[-2.92,-1.92],[-2.76,-2.04],[-2.6,-1.88],[-2.44,-2],[-2.28,-1.85],[-2.12,-1.96],[-1.96,-1.82],[-1.8,-1.94],[-1.64,-1.8],[-1.48,-1.92],[-1.32,-1.78],[-1.16,-1.88],[-1,-1.76],[-.84,-1.84],[-.68,-1.74],[-.52,-1.84],[-.36,-1.72],
[-3.2,-2.45],[-3.04,-2.32],[-2.88,-2.42],[-2.72,-2.28],[-2.56,-2.4],[-2.4,-2.24],[-2.24,-2.32],[-2.08,-2.22],[-1.92,-2.32],[-1.76,-2.2],[-1.6,-2.3],[-1.44,-2.22],[-1.28,-2.26],[-1.12,-2.16],[-.96,-2.24],[-.8,-2.2],
[-3.35,-2.88],[-3.2,-2.82],[-3.05,-2.74],[-2.9,-2.82],[-2.75,-2.7],[-2.6,-2.8],[-2.45,-2.64],[-2.3,-2.72],[-3.4,-3.22],[-3.25,-3.2],[-3.1,-3.22],[-2.95,-3.18],[-2.8,-3.12],[-2.65,-3.18],[-2.5,-3.08],
// upper left of the cloud
[-2.35,1.3],[-2.2,1.55],[-2.1,1.32],[-2,1.7],[-1.95,1.5],[-1.88,1.82],[-1.75,1.98],[-1.7,1.62],[-1.42,2],[-1.3,2.15],[-2.5,.75],[-2.62,.6],[-2.78,.35],[-2.9,.15],[-2.95,-.18],[-3.05,-.38],[-3.12,-.18],[-3.22,.02],[-3.3,-.35],[-3.05,-.9],[-3.25,-.82],[-3.38,-.62],[-3.18,-1.32],[-3.3,-1.48],[-3.22,-1.82],[-3.42,-1.6]];

// Fastprop, large set
const pointsE = [[-5.7,-4.18],[-5.45,-3.95],[-5.26,-3.74],[-4.98,-3.49],[-4.76,-3.28],[-4.5,-4.73],[-4.34,-4.51],[-4.39,-3.81],[-4.13,-3.74],[-4.16,-3.18],[-4.04,-3.16],[-4.13,-4.27],[-3.96,-4.09],[-3.82,-4.37],[-3.53,-4.18],[-3.38,-4.47],[-3.13,.36],[-3.24,-.5],[-3.9,-1.7],[-3.76,-1.61],[-3.61,-1.51],[-3.46,-1.42],[-3.73,-1.04],[-3.6,-1.02],[-3.48,-.95],[-3.35,-.88],[-3.69,-2.03],[-3.58,-2.18],[-2.5,-.22],[-2.35,-.12],[-2.2,-.02],[-2.05,.1],[-1.9,.2],[-1.75,.28],[-1.57,.38],[-.52,.78],[1.63,.67],[1.84,.67],[2.03,.67],[1.28,.67],[1.16,1.18],[1.25,1.24],[1.34,1.3],[1.43,1.35],[1.51,1.37],[1.3,1.15],[1.45,1.18],[.79,-2],[1.34,-.6],[1.25,-.72],[1.15,-.85],[1.05,-.98],[.95,-1.15],[.85,-1.28],[.75,-1.45],[.64,-1.68],
[-2.85,-4.6],[-2.75,-4.48],[-2.65,-4.35],[-2.55,-4.25],[-2.45,-4.12],[-2.35,-4],[-2.25,-3.88],[-2.15,-3.72],[-2.05,-3.6],[-1.95,-3.45],[-1.8,-3.27],[-2.3,-4.3],[-2.2,-4.18],[-2.1,-4.05],[-2,-3.9],[-1.9,-3.72],[-3.25,-4.45],[-3.1,-4.3],[-2.95,-4.12],[-2.8,-3.95],[-2.65,-3.8],[-2.5,-3.62],[-1.57,-4.09],[-1.5,-3.9],[-1.42,-3.72],[-1.35,-3.55],[-1.28,-3.38],[-1.2,-3.2],[-1.12,-3],[-1.05,-2.85],[-.98,-2.65],[-.87,-2.38],[-.52,-3.2],[-.38,-3.08],[-.8,-3.33],[-1.22,-3.42],[-1.1,-3.35],[-1,-3.35],[-1.5,-3.42],[-1.7,-3.38],
[-2.85,-.38],[-2.7,-.28],[-2.95,-.55],[-3.1,-.78],[-3.25,-.7],[-3.15,-1.02],[-3.2,-1.25],[-3.08,-1.4],[-3.3,-1.85],[-3.45,-2.4],[-3.6,-2.65],[-3.5,-2.85],[-3.7,-3.2],[-3.6,-3.15],[-3.3,-2.1],[-3.2,-2.4],[-3.42,-3.25],[-3.55,-3.45],[-3.75,-3.55],[-3.35,-3.6],[-3.2,-3.7],[-3.05,-3.9],
[-1.7,.05],[-1.55,.18],[-1.4,.3],[-1.22,.42],[-1.06,.45],[-.9,.42],[-.75,.48],[-.6,.5],[-.42,.58],[-.28,.6],[-.12,.72],[.04,.8],[.2,.85],[.36,.88],[.52,.95],[.68,1],[.8,1.08],[.95,1],
[-1.95,-.15],[-1.8,-.2],[-1.64,-.1],[-1.48,-.2],[-1.32,.08],[-1.16,.18],[-1,.2],[-.84,.12],[-.68,.28],[-.52,.18],[-.36,.38],[-.2,.3],[-.04,.45],[.12,.38],[.28,.58],[.44,.5],[.6,.7],[.76,.62],[.9,.78],[1.04,.6],
[-2.15,-.5],[-2,-.42],[-1.84,-.55],[-1.68,-.38],[-1.52,-.5],[-1.36,-.25],[-1.2,-.1],[-1.04,-.15],[-.88,-.15],[-.72,-.02],[-.56,-.1],[-.4,.08],[-.24,.02],[-.08,.2],[.08,.1],[.24,.28],[.4,.2],[.56,.38],[.72,.3],[.88,.45],[1.02,.32],[1.12,.22],
[-2.4,-.85],[-2.25,-.75],[-2.1,-.85],[-1.94,-.72],[-1.78,-.82],[-1.62,-.68],[-1.46,-.78],[-1.3,-.6],[-1.14,-.45],[-.98,-.5],[-.82,-.42],[-.66,-.38],[-.5,-.3],[-.34,-.22],[-.18,-.25],[-.02,-.08],[.14,-.15],[.3,0],[.46,-.05],[.62,.12],[.78,.02],[.94,.12],[1.08,0],[1.14,-.12],
[-2.6,-1.2],[-2.45,-1.1],[-2.3,-1.2],[-2.14,-1.05],[-1.98,-1.15],[-1.82,-1.02],[-1.66,-1.12],[-1.5,-1],[-1.34,-.95],[-1.18,-.82],[-1.02,-.85],[-.86,-.72],[-.7,-.72],[-.54,-.6],[-.38,-.58],[-.22,-.48],[-.06,-.42],[.1,-.35],[.26,-.3],[.42,-.22],[.58,-.28],[.74,-.2],[.9,-.25],[1.04,-.22],[1.1,-.38],[.95,-.48],
[-2.8,-1.55],[-2.65,-1.45],[-2.5,-1.55],[-2.34,-1.42],[-2.18,-1.52],[-2.02,-1.38],[-1.86,-1.48],[-1.7,-1.35],[-1.54,-1.42],[-1.38,-1.28],[-1.22,-1.2],[-1.06,-1.12],[-.9,-1.05],[-.74,-1],[-.58,-.92],[-.42,-.88],[-.26,-.78],[-.1,-.72],[.06,-.65],[.22,-.6],[.38,-.55],[.54,-.55],[.7,-.48],[.86,-.52],[.96,-.72],[.8,-.78],
[-3,-1.9],[-2.85,-1.78],[-2.7,-1.88],[-2.54,-1.75],[-2.38,-1.85],[-2.22,-1.72],[-2.06,-1.82],[-1.9,-1.68],[-1.74,-1.75],[-1.58,-1.62],[-1.42,-1.6],[-1.26,-1.5],[-1.1,-1.45],[-.94,-1.35],[-.78,-1.3],[-.62,-1.22],[-.46,-1.18],[-.3,-1.08],[-.14,-1.02],[.02,-.95],[.18,-.9],[.34,-.85],[.5,-.85],[.66,-.78],[.7,-1],[.55,-1.08],[.4,-1.1],[.25,-1.18],
[-3.05,-2.25],[-2.9,-2.12],[-2.75,-2.22],[-2.6,-2.08],[-2.44,-2.18],[-2.28,-2.05],[-2.12,-2.15],[-1.96,-2],[-1.8,-2.08],[-1.64,-1.95],[-1.48,-1.92],[-1.32,-1.82],[-1.16,-1.75],[-1,-1.65],[-.84,-1.6],[-.68,-1.52],[-.52,-1.48],[-.36,-1.4],[-.2,-1.32],[-.04,-1.28],[.12,-1.2],[.28,-1.4],[.1,-1.5],[-.05,-1.6],[.45,-1.32],[.6,-1.28],
[-3.15,-2.6],[-3,-2.48],[-2.85,-2.58],[-2.7,-2.42],[-2.55,-2.52],[-2.4,-2.38],[-2.24,-2.48],[-2.08,-2.32],[-1.92,-2.4],[-1.76,-2.28],[-1.6,-2.25],[-1.44,-2.15],[-1.28,-2.08],[-1.12,-1.98],[-.96,-1.92],[-.8,-1.85],[-.64,-1.8],[-.48,-1.72],[-.32,-1.65],[-.2,-1.8],[-.45,-1.95],[-.65,-2.05],[-.85,-2.15],[-1,-2.28],[-1.2,-2.35],[-1.4,-2.45],
[-3.3,-2.95],[-3.15,-2.85],[-3,-2.95],[-2.85,-2.8],[-2.7,-2.9],[-2.55,-2.75],[-2.4,-2.82],[-2.24,-2.7],[-2.08,-2.65],[-1.92,-2.6],[-1.76,-2.55],[-1.6,-2.65],[-1.45,-2.75],[-1.65,-2.9],[-1.85,-2.95],[-2.05,-3],[-2.25,-3.05],[-2.45,-3.1],[-2.65,-3.15],[-2.85,-3.2],[-3.05,-3.25],[-3.25,-3.3],[-3.1,-3.55],[-2.9,-3.5],[-2.7,-3.42],[-2.45,-3.42],
// denser core
[-1.85,-.02],[-1.6,.05],[-1.44,.14],[-1.26,.24],[-1.1,.32],[-.94,.3],[-.8,.3],[-.62,.38],[-.46,.44],[-.3,.48],[-.14,.58],[.02,.62],[.18,.7],[.34,.74],[.5,.8],[.66,.84],[.82,.92],[.98,.88],
[-2.05,-.3],[-1.9,-.34],[-1.74,-.3],[-1.58,-.3],[-1.42,-.08],[-1.26,-.02],[-1.1,.02],[-.94,.02],[-.78,.08],[-.62,.12],[-.46,.22],[-.3,.2],[-.14,.34],[.02,.3],[.18,.48],[.34,.42],[.5,.6],[.66,.54],[.82,.68],[.98,.5],
[-2.28,-.66],[-2.12,-.62],[-1.96,-.58],[-1.8,-.5],[-1.64,-.52],[-1.48,-.4],[-1.32,-.4],[-1.16,-.26],[-1,-.32],[-.84,-.28],[-.68,-.2],[-.52,-.18],[-.36,-.08],[-.2,-.1],[-.04,.06],[.12,0],[.28,.14],[.44,.08],[.6,.24],[.76,.16],[.92,.28],[1.06,.16],
[-2.5,-1.02],[-2.34,-.98],[-2.18,-.96],[-2.02,-.94],[-1.86,-.9],[-1.7,-.86],[-1.54,-.84],[-1.38,-.76],[-1.22,-.66],[-1.06,-.62],[-.9,-.56],[-.74,-.54],[-.58,-.46],[-.42,-.4],[-.26,-.38],[-.1,-.28],[.06,-.26],[.22,-.15],[.38,-.14],[.54,-.12],[.7,-.08],[.86,-.08],[1.02,-.1],
[-2.7,-1.38],[-2.54,-1.3],[-2.38,-1.3],[-2.22,-1.28],[-2.06,-1.22],[-1.9,-1.24],[-1.74,-1.18],[-1.58,-1.14],[-1.42,-1.12],[-1.26,-1],[-1.1,-.98],[-.94,-.88],[-.78,-.86],[-.62,-.76],[-.46,-.72],[-.3,-.62],[-.14,-.58],[.02,-.5],[.18,-.46],[.34,-.38],[.5,-.4],[.66,-.36],[.82,-.36],[.98,-.34],
[-2.9,-1.72],[-2.74,-1.64],[-2.58,-1.66],[-2.42,-1.6],[-2.26,-1.62],[-2.1,-1.56],[-1.94,-1.56],[-1.78,-1.52],[-1.62,-1.5],[-1.46,-1.42],[-1.3,-1.34],[-1.14,-1.28],[-.98,-1.2],[-.82,-1.16],[-.66,-1.06],[-.5,-1.02],[-.34,-.94],[-.18,-.9],[-.02,-.82],[.14,-.76],[.3,-.7],[.46,-.7],[.62,-.62],[.78,-.62],
[-3.05,-2.08],[-2.9,-1.98],[-2.74,-2.02],[-2.58,-1.92],[-2.42,-2],[-2.26,-1.88],[-2.1,-1.98],[-1.94,-1.84],[-1.78,-1.9],[-1.62,-1.78],[-1.46,-1.76],[-1.3,-1.66],[-1.14,-1.6],[-.98,-1.5],[-.82,-1.46],[-.66,-1.38],[-.5,-1.32],[-.34,-1.24],[-.18,-1.18],[-.02,-1.12],[.14,-1.05],[.3,-1.02],[.46,-.98],[.6,-.95],
[-3.12,-2.42],[-2.96,-2.3],[-2.8,-2.4],[-2.64,-2.25],[-2.48,-2.35],[-2.32,-2.22],[-2.16,-2.32],[-2,-2.16],[-1.84,-2.24],[-1.68,-2.12],[-1.52,-2.08],[-1.36,-1.98],[-1.2,-1.92],[-1.04,-1.82],[-.88,-1.76],[-.72,-1.68],[-.56,-1.64],[-.4,-1.56],[-.24,-1.48],[-.08,-1.44],[-.25,-1.65],[-.52,-1.8],[-.72,-1.92],
[-3.22,-2.78],[-3.08,-2.66],[-2.92,-2.76],[-2.78,-2.6],[-2.62,-2.68],[-2.46,-2.56],[-2.3,-2.65],[-2.14,-2.5],[-1.98,-2.52],[-1.82,-2.44],[-1.66,-2.42],[-1.5,-2.32],[-1.34,-2.26],[-1.18,-2.18],[-1.02,-2.1],[-.9,-2.02],[-1.55,-2.55],[-1.3,-2.45],[-1.12,-2.4],
[-3.4,-3.12],[-3.2,-3.08],[-3.05,-3.1],[-2.9,-3],[-2.75,-3.05],[-2.6,-2.95],[-2.45,-2.96],[-2.3,-2.88],[-2.12,-2.82],[-1.96,-2.78],[-1.78,-2.72],[-1.62,-2.78],[-3.3,-3.48],[-3.15,-3.4],[-3,-3.4],[-2.8,-3.35],[-2.6,-3.3],[-2.4,-3.28],[-2.2,-3.22],[-2,-3.18],[-1.8,-3.1]];

// Chemprop, large set
const pointsF = [[-5.71,-3.61],[-5.45,-3.4],[-5.26,-3.2],[-5,-3.01],[-4.77,-2.8],[-3.14,.05],[-4.39,-4.15],[-4.52,-3.9],[-4.32,-3.71],[-4.14,-3.49],[-4.2,-3.23],[-4.06,-2.86],[-3.86,-2.82],[-3.96,-3.15],[-4.12,-4.05],[-3.95,-3.95],[-3.75,-3.85],[-3.55,-3.9],[-3.71,-1.1],[-3.6,-1.05],[-3.5,-1],[-3.4,-.9],[-3.32,-.82],[-3.24,-.66],[-3.88,-1.72],[-3.75,-1.6],[-3.62,-1.5],[-3.5,-1.4],[-3.38,-1.28],[-3.25,-1.3],[-3.1,-.45],[-3,-.4],[-2.83,-.34],[-2.5,-.28],[-2.35,-.45],[-3.7,-1.87],[-3.7,-2.25],[-3.62,-2.25],[1.63,.32],[1.83,.39],[2.04,.47],[1.13,.8],[1.2,.85],[1.28,.92],[1.36,.98],[1.45,1.04],[1.54,1.09],
[-.21,.99],[-.1,1],[0,1.05],[.2,.92],[.4,.95],[.6,.98],[.78,.9],[-.5,.85],[-.65,.75],[-.85,.65],[-.25,.82],[.1,.8],[.5,.85],[-2.4,-3.93],[-2.28,-3.9],[-2.15,-3.82],[-2.02,-3.71],[-1.85,-3.5],[-1.72,-3.42],[-1.55,-3.45],[.43,-2.03],[.3,-2.05],[.15,-2.12],[0,-2.2],[-.15,-2.4],[-.38,-3.01],[-.54,-3.08],[-.3,-2.7],[-.75,-3.05],[-1,-3.1],[-3.52,-3.75],[-3.4,-3.55],[-3.6,-3.4],[-3.3,-3.6],[-2.9,-3.85],[-2.88,-3.7],[-2.75,-3.5],[-3.1,-3.55],
[-1.2,.3],[-1.05,.4],[-.9,.5],[-.75,.42],[-.58,.6],[-.42,.58],[-.28,.72],[-.1,.65],[.08,.72],[.25,.7],[.42,.78],[.6,.72],[.76,.78],[.92,.72],[1.02,.62],[1.12,.58],[1.25,.5],
[-1.62,-.02],[-1.45,.1],[-1.3,.05],[-1.14,.18],[-.98,.12],[-.82,.28],[-.66,.22],[-.5,.38],[-.34,.32],[-.18,.46],[-.02,.42],[.14,.52],[.3,.48],[.46,.56],[.62,.5],[.78,.58],[.94,.5],[1.08,.38],[1.18,.3],
[-2,-.35],[-1.85,-.25],[-1.7,-.32],[-1.54,-.2],[-1.38,-.25],[-1.22,-.1],[-1.06,-.12],[-.9,.02],[-.74,-.02],[-.58,.12],[-.42,.08],[-.26,.2],[-.1,.18],[.06,.28],[.22,.24],[.38,.32],[.54,.28],[.7,.34],[.86,.28],[1,.18],[1.12,.1],
[-2.25,-.7],[-2.1,-.6],[-1.95,-.68],[-1.79,-.55],[-1.63,-.6],[-1.47,-.46],[-1.31,-.48],[-1.15,-.35],[-.99,-.34],[-.83,-.22],[-.67,-.24],[-.51,-.12],[-.35,-.14],[-.19,-.02],[-.03,-.04],[.13,.06],[.29,.04],[.45,.12],[.61,.08],[.77,.14],[.93,.06],[1.08,-.05],[1.16,-.12],
[-2.5,-1.05],[-2.35,-.95],[-2.2,-1.02],[-2.04,-.9],[-1.88,-.95],[-1.72,-.82],[-1.56,-.84],[-1.4,-.72],[-1.24,-.72],[-1.08,-.6],[-.92,-.6],[-.76,-.48],[-.6,-.5],[-.44,-.38],[-.28,-.38],[-.12,-.26],[.04,-.26],[.2,-.16],[.36,-.16],[.52,-.08],[.68,-.1],[.84,-.06],[1,-.18],[1.12,-.32],
[-2.7,-1.42],[-2.55,-1.3],[-2.4,-1.38],[-2.24,-1.24],[-2.08,-1.28],[-1.92,-1.15],[-1.76,-1.18],[-1.6,-1.05],[-1.44,-1.06],[-1.28,-.94],[-1.12,-.95],[-.96,-.82],[-.8,-.84],[-.64,-.72],[-.48,-.72],[-.32,-.6],[-.16,-.6],[0,-.48],[.16,-.48],[.32,-.38],[.48,-.38],[.64,-.3],[.8,-.32],[.96,-.36],[1.08,-.55],[1.02,-.72],
[-2.9,-1.78],[-2.75,-1.65],[-2.6,-1.72],[-2.44,-1.58],[-2.28,-1.62],[-2.12,-1.48],[-1.96,-1.52],[-1.8,-1.38],[-1.64,-1.4],[-1.48,-1.26],[-1.32,-1.28],[-1.16,-1.15],[-1,-1.16],[-.84,-1.04],[-.68,-1.05],[-.52,-.92],[-.36,-.94],[-.2,-.82],[-.04,-.82],[.12,-.7],[.28,-.72],[.44,-.6],[.6,-.62],[.76,-.55],[.9,-.6],[.8,-.82],[.66,-.9],[.5,-.9],
[-3.1,-2.12],[-2.95,-2],[-2.8,-2.06],[-2.64,-1.92],[-2.48,-1.96],[-2.32,-1.82],[-2.16,-1.86],[-2,-1.72],[-1.84,-1.74],[-1.68,-1.6],[-1.52,-1.62],[-1.36,-1.5],[-1.2,-1.5],[-1.04,-1.38],[-.88,-1.38],[-.72,-1.26],[-.56,-1.26],[-.4,-1.14],[-.24,-1.14],[-.08,-1.02],[.08,-1.02],[.24,-.94],[.4,-.95],[.56,-1.1],[.72,-1.2],[.8,-1.28],[.68,-1.38],[.45,-1.3],[.25,-1.25],
[-3.35,-2.5],[-3.2,-2.36],[-3.05,-2.42],[-2.9,-2.28],[-2.74,-2.32],[-2.58,-2.18],[-2.42,-2.22],[-2.26,-2.08],[-2.1,-2.1],[-1.94,-1.96],[-1.78,-1.98],[-1.62,-1.84],[-1.46,-1.86],[-1.3,-1.74],[-1.14,-1.74],[-.98,-1.62],[-.82,-1.62],[-.66,-1.5],[-.5,-1.5],[-.34,-1.38],[-.18,-1.38],[-.02,-1.28],[.14,-1.3],[.3,-1.45],[.1,-1.55],[-.12,-1.62],[.32,-1.75],[.15,-1.8],[-.02,-1.82],
[-3.5,-2.85],[-3.35,-2.75],[-3.2,-2.8],[-3.05,-2.68],[-2.9,-2.7],[-2.74,-2.55],[-2.58,-2.58],[-2.42,-2.45],[-2.26,-2.46],[-2.1,-2.32],[-1.94,-2.32],[-1.78,-2.2],[-1.62,-2.18],[-1.46,-2.08],[-1.3,-2.02],[-1.14,-1.98],[-.98,-1.92],[-.82,-1.9],[-.66,-1.78],[-.5,-1.8],[-.34,-1.7],[-.5,-2.05],[-.7,-2.1],[-.28,-2],[-.1,-2.02],
[-3.3,-3.1],[-3.15,-3.05],[-3,-3.1],[-2.85,-2.95],[-2.7,-2.9],[-2.55,-2.88],[-2.38,-2.75],[-2.22,-2.72],[-1.75,-2.5],[-1.6,-2.45],[-1.45,-2.4],[-1.3,-2.32],[-1.15,-2.28],[-1,-2.25],[-.85,-2.2],[-.7,-2.35],[-.5,-2.32],[-.9,-2.48],[-1.1,-2.58],[-1.3,-2.65],[-1.48,-2.72],[-1.68,-2.8],[-1.75,-3],[-1.55,-3],[-1.35,-2.95],[-1.15,-2.9],[-.95,-2.8],[-.75,-2.7],[-1.9,-3.2],[-1.45,-3.2],[-1.25,-3.18],
[-3.3,-3.4],[-3.1,-3.3],[-2.95,-3.35],[-2.75,-3.2],[-2.6,-3.25],[-2.5,-3.05],[-2.35,-3.2],[-2.2,-3.05],[-2.05,-3.1],[-2.42,-3.45],[-2.6,-3.5],[-2.2,-3.5],[-3.05,-3.65],[-3.2,-3.85],[-3.35,-3.9],
// denser core
[-1.4,.16],[-1.22,.24],[-1.06,.24],[-.9,.3],[-.74,.28],[-.58,.42],[-.42,.36],[-.26,.52],[-.1,.44],[.06,.52],[.22,.5],[.38,.58],[.54,.54],[.7,.58],[.86,.52],[1,.5],[1.14,.42],
[-1.8,-.12],[-1.62,-.15],[-1.46,-.1],[-1.3,-.12],[-1.14,0],[-.98,-.06],[-.82,.06],[-.66,.04],[-.5,.18],[-.34,.14],[-.18,.26],[-.02,.24],[.14,.3],[.3,.28],[.46,.34],[.62,.3],[.78,.36],[.94,.3],[1.08,.18],
[-2.12,-.5],[-1.96,-.46],[-1.8,-.42],[-1.64,-.4],[-1.48,-.3],[-1.32,-.3],[-1.16,-.18],[-1,-.18],[-.84,-.06],[-.68,-.06],[-.52,.02],[-.36,.02],[-.2,.12],[-.04,.1],[.12,.2],[.28,.16],[.44,.22],[.6,.18],[.76,.24],[.92,.18],[1.06,.06],
[-2.38,-.88],[-2.22,-.82],[-2.06,-.76],[-1.9,-.78],[-1.74,-.68],[-1.58,-.7],[-1.42,-.58],[-1.26,-.58],[-1.1,-.46],[-.94,-.46],[-.78,-.34],[-.62,-.34],[-.46,-.24],[-.3,-.24],[-.14,-.14],[.02,-.14],[.18,-.06],[.34,-.06],[.5,.02],[.66,0],[.82,.04],[.98,-.06],[1.1,-.18],
[-2.62,-1.24],[-2.46,-1.16],[-2.3,-1.18],[-2.14,-1.08],[-1.98,-1.1],[-1.82,-1],[-1.66,-.96],[-1.5,-.88],[-1.34,-.84],[-1.18,-.78],[-1.02,-.7],[-.86,-.7],[-.7,-.6],[-.54,-.6],[-.38,-.48],[-.22,-.48],[-.06,-.36],[.1,-.36],[.26,-.26],[.42,-.26],[.58,-.2],[.74,-.2],[.9,-.22],[1.04,-.42],
[-2.82,-1.6],[-2.66,-1.48],[-2.5,-1.54],[-2.34,-1.42],[-2.18,-1.44],[-2.02,-1.32],[-1.86,-1.3],[-1.7,-1.22],[-1.54,-1.2],[-1.38,-1.12],[-1.22,-1.06],[-1.06,-1],[-.9,-.94],[-.74,-.88],[-.58,-.82],[-.42,-.78],[-.26,-.7],[-.1,-.66],[.06,-.58],[.22,-.58],[.38,-.5],[.54,-.5],[.7,-.44],[.86,-.46],[.98,-.56],
[-3,-1.94],[-2.84,-1.84],[-2.68,-1.86],[-2.52,-1.76],[-2.36,-1.78],[-2.2,-1.66],[-2.04,-1.66],[-1.88,-1.56],[-1.72,-1.54],[-1.56,-1.44],[-1.4,-1.4],[-1.24,-1.32],[-1.08,-1.28],[-.92,-1.2],[-.76,-1.16],[-.6,-1.08],[-.44,-1.04],[-.28,-.98],[-.12,-.92],[.04,-.88],[.2,-.82],[.36,-.78],[.52,-.75],[.68,-.72],[.9,-.78],[.58,-1.28],
[-3.22,-2.32],[-3.08,-2.24],[-2.92,-2.2],[-2.76,-2.1],[-2.6,-2.08],[-2.44,-2],[-2.28,-1.98],[-2.12,-1.88],[-1.96,-1.84],[-1.8,-1.76],[-1.64,-1.72],[-1.48,-1.66],[-1.32,-1.62],[-1.16,-1.56],[-1,-1.5],[-.84,-1.46],[-.68,-1.38],[-.52,-1.36],[-.36,-1.26],[-.2,-1.24],[-.04,-1.15],[.12,-1.14],[.28,-1.1],[.44,-1.1],[.6,-1.22],
[-3.42,-2.68],[-3.28,-2.56],[-3.12,-2.6],[-2.96,-2.48],[-2.82,-2.5],[-2.66,-2.36],[-2.5,-2.38],[-2.34,-2.26],[-2.18,-2.26],[-2.02,-2.14],[-1.86,-2.14],[-1.7,-2.02],[-1.54,-2],[-1.38,-1.92],[-1.22,-1.88],[-1.06,-1.8],[-.9,-1.76],[-.74,-1.7],[-.58,-1.66],[-.42,-1.54],[-.26,-1.55],[-.1,-1.45],[.06,-1.45],[.22,-1.6],[.02,-1.7],[-.2,-1.8],[-.4,-1.9],[-.6,-1.95],
[-3.42,-3],[-3.28,-2.92],[-3.12,-2.94],[-2.98,-2.82],[-2.82,-2.82],[-2.66,-2.72],[-2.5,-2.72],[-2.34,-2.6],[-2.18,-2.56],[-2.02,-2.46],[-1.86,-2.4],[-1.7,-2.34],[-1.54,-2.3],[-1.38,-2.2],[-1.22,-2.14],[-1.06,-2.1],[-.92,-2.04],[-.78,-2],[-.62,-2.18],[-.82,-2.35],[-1.02,-2.42],[-1.2,-2.48],[-1.4,-2.55],[-1.58,-2.62],[-1.62,-2.85],[-1.42,-2.8],[-1.24,-2.78],[-1.04,-2.7],[-.84,-2.62],[-.66,-2.55],
[-3.2,-3.25],[-3.02,-3.2],[-2.85,-3.22],[-2.68,-3.05],[-2.45,-3.1],[-2.3,-2.95],[-2.12,-2.9],[-2.9,-3.48],[-2.72,-3.35],[-2.52,-3.38],[-2.3,-3.35],[-2.1,-3.3],[-1.95,-3.38],[-1.72,-3.2],[-1.58,-3.22],[-1.35,-3.1]];

const panelColors = [
    ['rgba(225, 150, 95, 0.4)', 'rgba(70, 40, 20, 0.42)'],
    ['rgba(70, 150, 80, 0.45)', 'rgba(0, 40, 10, 0.6)']
];

const PLOT_W = 257;
const TOP_H = 237;
const BOTTOM_H = 236;
const PAD_TOP = 14;
const PAD_RIGHT = 14;
const plotLefts = [75, 384, 693];
const plotTops = [39, 347];

function lineSet(xs, ys, color, width, dash) {
    return {
        type: 'line',
        data: xs.map((x, i) => ({ x: x, y: ys[i] })),
        borderColor: color,
        borderWidth: width,
        borderDash: dash,
        pointRadius: 0,
        fill: false,
        tension: 0
    };
}

function drawPanel(page, index, points) {
    const col = index % 3;
    const row = index < 3 ? 0 : 1;
    const plotH = row === 0 ? TOP_H : BOTTOM_H;
    const leftW = col === 0 ? 45 : 20;
    const canvas = document.createElement('canvas');
    canvas.width = leftW + PLOT_W + PAD_RIGHT;
    canvas.height = PAD_TOP + plotH + 30;
    canvas.style.left = (plotLefts[col] - leftW) + 'px';
    canvas.style.top = (plotTops[row] - PAD_TOP) + 'px';
    page.appendChild(canvas);

    const colors = panelColors[row];
    const yTicks = row === 0 ? yTicksTop : yTicksBottom;
    const axisLine = { color: '#8c8c8c', width: 1.5 };
    const axisGrid = { drawOnChartArea: false, tickColor: '#555', tickLength: 4, tickWidth: 1 };
    const tickFont = { family: '"Open Sans", "Noto Sans", sans-serif', size: 20 };

    new Chart(canvas.getContext('2d'), {
        type: 'scatter',
        data: {
            datasets: [
                // first dataset is painted last: black line over the points, grey lines under them
                lineSet(parityX, parityY, '#000', 1.8, [6, 3]),
                {
                    data: points.map(p => ({ x: p[0], y: p[1] })),
                    backgroundColor: colors[0],
                    borderColor: colors[1],
                    borderWidth: 1,
                    pointRadius: 3
                },
                lineSet(upperX, upperY, '#cfcfcf', 1.8, [8, 4]),
                lineSet(lowerX, lowerY, '#cfcfcf', 1.8, [8, 4])
            ]
        },
        options: {
            responsive: false,
            animation: false,
            layout: { padding: { top: PAD_TOP, right: PAD_RIGHT } },
            plugins: { legend: { display: false }, tooltip: { enabled: false } },
            scales: {
                x: {
                    type: 'linear',
                    min: xTicks[0],
                    max: xTicks[xTicks.length - 1],
                    afterBuildTicks: s => { s.ticks = xTicks.map(v => ({ value: v })); },
                    afterFit: s => { s.height = 30; },
                    border: axisLine,
                    grid: axisGrid,
                    ticks: {
                        font: tickFont,
                        color: '#111',
                        padding: 0,
                        maxRotation: 0,
                        callback: v => String(v).replace('-', '−')
                    }
                },
                y: {
                    type: 'linear',
                    min: yTicks[0],
                    max: yTicks[yTicks.length - 1],
                    afterBuildTicks: s => { s.ticks = yTicks.map(v => ({ value: v })); },
                    afterFit: s => { s.width = leftW; },
                    border: axisLine,
                    grid: axisGrid,
                    ticks: {
                        display: col === 0,
                        font: tickFont,
                        color: '#111',
                        padding: 4,
                        callback: v => String(v).replace('-', '−')
                    }
                }
            }
        }
    });

    addText(page, 'txt letter', panelLetters[index], plotLefts[col] - 30, plotTops[row] - 31);
    addText(page, 'txt note', rmseLabels[index], plotLefts[col] + 171, plotTops[row] + (row === 0 ? 194 : 184));
    addText(page, 'txt note', pctLabels[index], plotLefts[col] + 171, plotTops[row] + (row === 0 ? 214 : 210));
    if (row === 0) {
        addText(page, 'txt title', panelTitles[col], plotLefts[col] + 128, 18);
    } else {
        addText(page, 'txt xname', 'True <i>logS</i>', plotLefts[col] + 128, 612);
    }
    if (col === 0) {
        addText(page, 'txt yname', 'lo\u011DS', 30, row === 0 ? 158 : 465);
    }
}

function addText(page, cls, html, x, y) {
    const el = document.createElement('div');
    el.className = cls;
    el.innerHTML = html;
    el.style.left = x + 'px';
    el.style.top = y + 'px';
    page.appendChild(el);
}

const page = document.getElementById('page');
[pointsA, pointsB, pointsC, pointsD, pointsE, pointsF].forEach((pts, i) => drawPanel(page, i, pts));
</script>
</body>
</html>
